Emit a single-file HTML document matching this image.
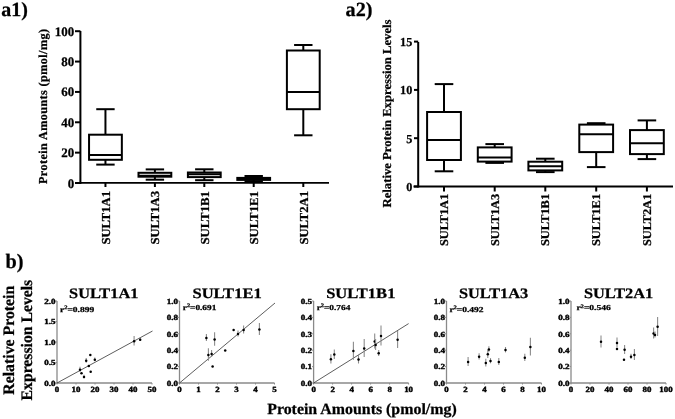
<!DOCTYPE html>
<html><head><meta charset="utf-8"><style>
html,body{margin:0;padding:0;background:#fff;}
svg{display:block;filter:grayscale(1);}
text{font-family:"Liberation Serif",serif;font-weight:bold;stroke:#000;stroke-width:0.25px;text-rendering:geometricPrecision;}
</style></head><body>
<svg width="675" height="419" viewBox="0 0 675 419">
<rect width="675" height="419" fill="#fff"/>
<text x="1.2" y="15.5" font-size="20.2" text-anchor="start" textLength="26.6" lengthAdjust="spacingAndGlyphs" fill="#000">a1)</text>
<line x1="80.4" y1="31" x2="80.4" y2="184.0" stroke="#000" stroke-width="2" stroke-linecap="butt"/>
<line x1="75" y1="183.0" x2="80.4" y2="183.0" stroke="#000" stroke-width="2" stroke-linecap="butt"/>
<text x="74.3" y="187.5" font-size="13" text-anchor="end" fill="#000">0</text>
<line x1="75" y1="152.64" x2="80.4" y2="152.64" stroke="#000" stroke-width="2" stroke-linecap="butt"/>
<text x="74.3" y="157.14" font-size="13" text-anchor="end" fill="#000">20</text>
<line x1="75" y1="122.28" x2="80.4" y2="122.28" stroke="#000" stroke-width="2" stroke-linecap="butt"/>
<text x="74.3" y="126.78" font-size="13" text-anchor="end" fill="#000">40</text>
<line x1="75" y1="91.92" x2="80.4" y2="91.92" stroke="#000" stroke-width="2" stroke-linecap="butt"/>
<text x="74.3" y="96.42" font-size="13" text-anchor="end" fill="#000">60</text>
<line x1="75" y1="61.56" x2="80.4" y2="61.56" stroke="#000" stroke-width="2" stroke-linecap="butt"/>
<text x="74.3" y="66.06" font-size="13" text-anchor="end" fill="#000">80</text>
<line x1="75" y1="31.19999999999999" x2="80.4" y2="31.19999999999999" stroke="#000" stroke-width="2" stroke-linecap="butt"/>
<text x="74.3" y="35.69999999999999" font-size="13" text-anchor="end" fill="#000">100</text>
<line x1="75.5" y1="182.8" x2="329" y2="182.8" stroke="#000" stroke-width="1.7" stroke-linecap="butt"/>
<line x1="105.45" y1="109.2" x2="105.45" y2="134.7" stroke="#000" stroke-width="2" stroke-linecap="butt"/>
<line x1="105.45" y1="159.8" x2="105.45" y2="164.6" stroke="#000" stroke-width="2" stroke-linecap="butt"/>
<line x1="96.25" y1="109.2" x2="114.65" y2="109.2" stroke="#000" stroke-width="2" stroke-linecap="butt"/>
<line x1="96.25" y1="164.6" x2="114.65" y2="164.6" stroke="#000" stroke-width="2" stroke-linecap="butt"/>
<rect x="89.05000000000001" y="134.7" width="32.8" height="25.100000000000023" stroke="#000" stroke-width="2" fill="none"/>
<line x1="89.05000000000001" y1="155.0" x2="121.85" y2="155.0" stroke="#000" stroke-width="2" stroke-linecap="butt"/>
<line x1="105.45" y1="183.0" x2="105.45" y2="187" stroke="#000" stroke-width="2" stroke-linecap="butt"/>
<text x="109.75" y="191.0" font-size="12.2" text-anchor="end" textLength="53.6" lengthAdjust="spacingAndGlyphs" transform="rotate(-90 109.75 191.0)" fill="#000">SULT1A1</text>
<line x1="154.9" y1="169.4" x2="154.9" y2="172.8" stroke="#000" stroke-width="2" stroke-linecap="butt"/>
<line x1="154.9" y1="176.7" x2="154.9" y2="179.7" stroke="#000" stroke-width="2" stroke-linecap="butt"/>
<line x1="145.70000000000002" y1="169.4" x2="164.1" y2="169.4" stroke="#000" stroke-width="2" stroke-linecap="butt"/>
<line x1="145.70000000000002" y1="179.7" x2="164.1" y2="179.7" stroke="#000" stroke-width="2" stroke-linecap="butt"/>
<rect x="138.5" y="172.8" width="32.8" height="3.8999999999999773" stroke="#000" stroke-width="2" fill="none"/>
<line x1="138.5" y1="175.8" x2="171.3" y2="175.8" stroke="#000" stroke-width="2" stroke-linecap="butt"/>
<line x1="154.9" y1="183.0" x2="154.9" y2="187" stroke="#000" stroke-width="2" stroke-linecap="butt"/>
<text x="159.20000000000002" y="191.0" font-size="12.2" text-anchor="end" textLength="53.6" lengthAdjust="spacingAndGlyphs" transform="rotate(-90 159.20000000000002 191.0)" fill="#000">SULT1A3</text>
<line x1="204.3" y1="169.3" x2="204.3" y2="172.5" stroke="#000" stroke-width="2" stroke-linecap="butt"/>
<line x1="204.3" y1="177.1" x2="204.3" y2="180.2" stroke="#000" stroke-width="2" stroke-linecap="butt"/>
<line x1="195.10000000000002" y1="169.3" x2="213.5" y2="169.3" stroke="#000" stroke-width="2" stroke-linecap="butt"/>
<line x1="195.10000000000002" y1="180.2" x2="213.5" y2="180.2" stroke="#000" stroke-width="2" stroke-linecap="butt"/>
<rect x="187.9" y="172.5" width="32.8" height="4.599999999999994" stroke="#000" stroke-width="2" fill="none"/>
<line x1="187.9" y1="174.2" x2="220.70000000000002" y2="174.2" stroke="#000" stroke-width="2" stroke-linecap="butt"/>
<line x1="204.3" y1="183.0" x2="204.3" y2="187" stroke="#000" stroke-width="2" stroke-linecap="butt"/>
<text x="208.60000000000002" y="191.0" font-size="12.2" text-anchor="end" textLength="53.6" lengthAdjust="spacingAndGlyphs" transform="rotate(-90 208.60000000000002 191.0)" fill="#000">SULT1B1</text>
<line x1="253.7" y1="176.0" x2="253.7" y2="177.9" stroke="#000" stroke-width="2" stroke-linecap="butt"/>
<line x1="253.7" y1="179.9" x2="253.7" y2="181.3" stroke="#000" stroke-width="2" stroke-linecap="butt"/>
<line x1="244.5" y1="176.0" x2="262.9" y2="176.0" stroke="#000" stroke-width="2" stroke-linecap="butt"/>
<line x1="244.5" y1="181.3" x2="262.9" y2="181.3" stroke="#000" stroke-width="2" stroke-linecap="butt"/>
<rect x="237.29999999999998" y="177.9" width="32.8" height="2.0" stroke="#000" stroke-width="2" fill="none"/>
<line x1="237.29999999999998" y1="179.0" x2="270.09999999999997" y2="179.0" stroke="#000" stroke-width="2" stroke-linecap="butt"/>
<line x1="253.7" y1="183.0" x2="253.7" y2="187" stroke="#000" stroke-width="2" stroke-linecap="butt"/>
<text x="258.0" y="191.0" font-size="12.2" text-anchor="end" textLength="53.6" lengthAdjust="spacingAndGlyphs" transform="rotate(-90 258.0 191.0)" fill="#000">SULT1E1</text>
<line x1="303.3" y1="45.0" x2="303.3" y2="50.5" stroke="#000" stroke-width="2" stroke-linecap="butt"/>
<line x1="303.3" y1="109.2" x2="303.3" y2="135.3" stroke="#000" stroke-width="2" stroke-linecap="butt"/>
<line x1="294.1" y1="45.0" x2="312.5" y2="45.0" stroke="#000" stroke-width="2" stroke-linecap="butt"/>
<line x1="294.1" y1="135.3" x2="312.5" y2="135.3" stroke="#000" stroke-width="2" stroke-linecap="butt"/>
<rect x="286.90000000000003" y="50.5" width="32.8" height="58.7" stroke="#000" stroke-width="2" fill="none"/>
<line x1="286.90000000000003" y1="92.0" x2="319.7" y2="92.0" stroke="#000" stroke-width="2" stroke-linecap="butt"/>
<line x1="303.3" y1="183.0" x2="303.3" y2="187" stroke="#000" stroke-width="2" stroke-linecap="butt"/>
<text x="307.6" y="191.0" font-size="12.2" text-anchor="end" textLength="53.6" lengthAdjust="spacingAndGlyphs" transform="rotate(-90 307.6 191.0)" fill="#000">SULT2A1</text>
<text x="46.6" y="184" font-size="12.2" text-anchor="start" textLength="155" lengthAdjust="spacing" transform="rotate(-90 46.6 184)" fill="#000">Protein Amounts (pmol/mg)</text>
<text x="345.6" y="15.5" font-size="20.2" text-anchor="start" textLength="26.9" lengthAdjust="spacingAndGlyphs" fill="#000">a2)</text>
<line x1="418.2" y1="42" x2="418.2" y2="187.5" stroke="#000" stroke-width="2" stroke-linecap="butt"/>
<line x1="414" y1="186.5" x2="418.2" y2="186.5" stroke="#000" stroke-width="2" stroke-linecap="butt"/>
<text x="412.3" y="190.8" font-size="12.2" text-anchor="end" fill="#000">0</text>
<line x1="414" y1="138.2" x2="418.2" y2="138.2" stroke="#000" stroke-width="2" stroke-linecap="butt"/>
<text x="412.3" y="142.5" font-size="12.2" text-anchor="end" fill="#000">5</text>
<line x1="414" y1="89.9" x2="418.2" y2="89.9" stroke="#000" stroke-width="2" stroke-linecap="butt"/>
<text x="412.3" y="94.2" font-size="12.2" text-anchor="end" fill="#000">10</text>
<line x1="414" y1="41.60000000000002" x2="418.2" y2="41.60000000000002" stroke="#000" stroke-width="2" stroke-linecap="butt"/>
<text x="412.3" y="45.90000000000002" font-size="12.2" text-anchor="end" fill="#000">15</text>
<line x1="413.5" y1="186.5" x2="673" y2="186.5" stroke="#000" stroke-width="1.8" stroke-linecap="butt"/>
<line x1="444.0" y1="84.10000000000001" x2="444.0" y2="112.0" stroke="#000" stroke-width="2" stroke-linecap="butt"/>
<line x1="444.0" y1="160.0" x2="444.0" y2="171.3" stroke="#000" stroke-width="2" stroke-linecap="butt"/>
<line x1="434.7" y1="84.10000000000001" x2="453.3" y2="84.10000000000001" stroke="#000" stroke-width="2" stroke-linecap="butt"/>
<line x1="434.7" y1="171.3" x2="453.3" y2="171.3" stroke="#000" stroke-width="2" stroke-linecap="butt"/>
<rect x="427.1" y="112.0" width="33.8" height="48.0" stroke="#000" stroke-width="2" fill="none"/>
<line x1="427.1" y1="140.0" x2="460.9" y2="140.0" stroke="#000" stroke-width="2" stroke-linecap="butt"/>
<line x1="444.0" y1="186.5" x2="444.0" y2="191.5" stroke="#000" stroke-width="2" stroke-linecap="butt"/>
<text x="448.0" y="193.8" font-size="11.8" text-anchor="end" textLength="52.3" lengthAdjust="spacingAndGlyphs" transform="rotate(-90 448.0 193.8)" fill="#000">SULT1A1</text>
<line x1="494.7" y1="144.1" x2="494.7" y2="147.4" stroke="#000" stroke-width="2" stroke-linecap="butt"/>
<line x1="494.7" y1="161.6" x2="494.7" y2="162.9" stroke="#000" stroke-width="2" stroke-linecap="butt"/>
<line x1="485.4" y1="144.1" x2="504.0" y2="144.1" stroke="#000" stroke-width="2" stroke-linecap="butt"/>
<line x1="485.4" y1="162.9" x2="504.0" y2="162.9" stroke="#000" stroke-width="2" stroke-linecap="butt"/>
<rect x="477.8" y="147.4" width="33.8" height="14.199999999999989" stroke="#000" stroke-width="2" fill="none"/>
<line x1="477.8" y1="157.4" x2="511.59999999999997" y2="157.4" stroke="#000" stroke-width="2" stroke-linecap="butt"/>
<line x1="494.7" y1="186.5" x2="494.7" y2="191.5" stroke="#000" stroke-width="2" stroke-linecap="butt"/>
<text x="498.7" y="193.8" font-size="11.8" text-anchor="end" textLength="52.3" lengthAdjust="spacingAndGlyphs" transform="rotate(-90 498.7 193.8)" fill="#000">SULT1A3</text>
<line x1="545.3" y1="158.70000000000002" x2="545.3" y2="161.70000000000002" stroke="#000" stroke-width="2" stroke-linecap="butt"/>
<line x1="545.3" y1="170.4" x2="545.3" y2="172.1" stroke="#000" stroke-width="2" stroke-linecap="butt"/>
<line x1="536.0" y1="158.70000000000002" x2="554.5999999999999" y2="158.70000000000002" stroke="#000" stroke-width="2" stroke-linecap="butt"/>
<line x1="536.0" y1="172.1" x2="554.5999999999999" y2="172.1" stroke="#000" stroke-width="2" stroke-linecap="butt"/>
<rect x="528.4" y="161.70000000000002" width="33.8" height="8.699999999999989" stroke="#000" stroke-width="2" fill="none"/>
<line x1="528.4" y1="166.20000000000002" x2="562.1999999999999" y2="166.20000000000002" stroke="#000" stroke-width="2" stroke-linecap="butt"/>
<line x1="545.3" y1="186.5" x2="545.3" y2="191.5" stroke="#000" stroke-width="2" stroke-linecap="butt"/>
<text x="549.3" y="193.8" font-size="11.8" text-anchor="end" textLength="52.3" lengthAdjust="spacingAndGlyphs" transform="rotate(-90 549.3 193.8)" fill="#000">SULT1B1</text>
<line x1="596.2" y1="123.2" x2="596.2" y2="124.60000000000001" stroke="#000" stroke-width="2" stroke-linecap="butt"/>
<line x1="596.2" y1="152.1" x2="596.2" y2="167.1" stroke="#000" stroke-width="2" stroke-linecap="butt"/>
<line x1="586.9000000000001" y1="123.2" x2="605.5" y2="123.2" stroke="#000" stroke-width="2" stroke-linecap="butt"/>
<line x1="586.9000000000001" y1="167.1" x2="605.5" y2="167.1" stroke="#000" stroke-width="2" stroke-linecap="butt"/>
<rect x="579.3000000000001" y="124.60000000000001" width="33.8" height="27.499999999999986" stroke="#000" stroke-width="2" fill="none"/>
<line x1="579.3000000000001" y1="134.20000000000002" x2="613.1" y2="134.20000000000002" stroke="#000" stroke-width="2" stroke-linecap="butt"/>
<line x1="596.2" y1="186.5" x2="596.2" y2="191.5" stroke="#000" stroke-width="2" stroke-linecap="butt"/>
<text x="600.2" y="193.8" font-size="11.8" text-anchor="end" textLength="52.3" lengthAdjust="spacingAndGlyphs" transform="rotate(-90 600.2 193.8)" fill="#000">SULT1E1</text>
<line x1="646.9" y1="120.4" x2="646.9" y2="130.1" stroke="#000" stroke-width="2" stroke-linecap="butt"/>
<line x1="646.9" y1="154.1" x2="646.9" y2="159.1" stroke="#000" stroke-width="2" stroke-linecap="butt"/>
<line x1="637.6" y1="120.4" x2="656.1999999999999" y2="120.4" stroke="#000" stroke-width="2" stroke-linecap="butt"/>
<line x1="637.6" y1="159.1" x2="656.1999999999999" y2="159.1" stroke="#000" stroke-width="2" stroke-linecap="butt"/>
<rect x="630.0" y="130.1" width="33.8" height="24.0" stroke="#000" stroke-width="2" fill="none"/>
<line x1="630.0" y1="143.20000000000002" x2="663.8" y2="143.20000000000002" stroke="#000" stroke-width="2" stroke-linecap="butt"/>
<line x1="646.9" y1="186.5" x2="646.9" y2="191.5" stroke="#000" stroke-width="2" stroke-linecap="butt"/>
<text x="650.9" y="193.8" font-size="11.8" text-anchor="end" textLength="52.3" lengthAdjust="spacingAndGlyphs" transform="rotate(-90 650.9 193.8)" fill="#000">SULT2A1</text>
<text x="391" y="207.5" font-size="12.2" text-anchor="start" textLength="188" lengthAdjust="spacingAndGlyphs" transform="rotate(-90 391 207.5)" fill="#000">Relative Protein Expression Levels</text>
<text x="5.5" y="268" font-size="20.5" text-anchor="start" textLength="18" lengthAdjust="spacingAndGlyphs" fill="#000">b)</text>
<text x="14.2" y="394.7" font-size="16" text-anchor="start" textLength="109" lengthAdjust="spacingAndGlyphs" transform="rotate(-90 14.2 394.7)" fill="#000">Relative Protein</text>
<text x="32" y="400.4" font-size="16" text-anchor="start" textLength="120.6" lengthAdjust="spacingAndGlyphs" transform="rotate(-90 32 400.4)" fill="#000">Expression Levels</text>
<text x="267.2" y="414.3" font-size="15.6" text-anchor="start" textLength="189.5" lengthAdjust="spacingAndGlyphs" fill="#000">Protein Amounts (pmol/mg)</text>
<line x1="57.0" y1="301.0" x2="57.0" y2="383.5" stroke="#8a8a8a" stroke-width="1.3" stroke-linecap="butt"/>
<line x1="56.5" y1="383.0" x2="152.0" y2="383.0" stroke="#8a8a8a" stroke-width="1.3" stroke-linecap="butt"/>
<line x1="55.5" y1="383.0" x2="57.0" y2="383.0" stroke="#8a8a8a" stroke-width="1" stroke-linecap="butt"/>
<text x="55.5" y="385.8" font-size="7.8" text-anchor="end" textLength="11.3" lengthAdjust="spacingAndGlyphs" fill="#000" style="stroke-width:0.4px">0.0</text>
<line x1="55.5" y1="362.5" x2="57.0" y2="362.5" stroke="#8a8a8a" stroke-width="1" stroke-linecap="butt"/>
<text x="55.5" y="365.3" font-size="7.8" text-anchor="end" textLength="11.3" lengthAdjust="spacingAndGlyphs" fill="#000" style="stroke-width:0.4px">0.5</text>
<line x1="55.5" y1="342.0" x2="57.0" y2="342.0" stroke="#8a8a8a" stroke-width="1" stroke-linecap="butt"/>
<text x="55.5" y="344.8" font-size="7.8" text-anchor="end" textLength="11.3" lengthAdjust="spacingAndGlyphs" fill="#000" style="stroke-width:0.4px">1.0</text>
<line x1="55.5" y1="321.5" x2="57.0" y2="321.5" stroke="#8a8a8a" stroke-width="1" stroke-linecap="butt"/>
<text x="55.5" y="324.3" font-size="7.8" text-anchor="end" textLength="11.3" lengthAdjust="spacingAndGlyphs" fill="#000" style="stroke-width:0.4px">1.5</text>
<line x1="55.5" y1="301.0" x2="57.0" y2="301.0" stroke="#8a8a8a" stroke-width="1" stroke-linecap="butt"/>
<text x="55.5" y="303.8" font-size="7.8" text-anchor="end" textLength="11.3" lengthAdjust="spacingAndGlyphs" fill="#000" style="stroke-width:0.4px">2.0</text>
<line x1="57.0" y1="383.0" x2="57.0" y2="384.5" stroke="#8a8a8a" stroke-width="1" stroke-linecap="butt"/>
<text x="57.0" y="391.6" font-size="7.9" text-anchor="middle" textLength="4.45" lengthAdjust="spacingAndGlyphs" fill="#000" style="stroke-width:0.4px">0</text>
<line x1="76.0" y1="383.0" x2="76.0" y2="384.5" stroke="#8a8a8a" stroke-width="1" stroke-linecap="butt"/>
<text x="76.0" y="391.6" font-size="7.9" text-anchor="middle" textLength="8.9" lengthAdjust="spacingAndGlyphs" fill="#000" style="stroke-width:0.4px">10</text>
<line x1="95.0" y1="383.0" x2="95.0" y2="384.5" stroke="#8a8a8a" stroke-width="1" stroke-linecap="butt"/>
<text x="95.0" y="391.6" font-size="7.9" text-anchor="middle" textLength="8.9" lengthAdjust="spacingAndGlyphs" fill="#000" style="stroke-width:0.4px">20</text>
<line x1="114.0" y1="383.0" x2="114.0" y2="384.5" stroke="#8a8a8a" stroke-width="1" stroke-linecap="butt"/>
<text x="114.0" y="391.6" font-size="7.9" text-anchor="middle" textLength="8.9" lengthAdjust="spacingAndGlyphs" fill="#000" style="stroke-width:0.4px">30</text>
<line x1="133.0" y1="383.0" x2="133.0" y2="384.5" stroke="#8a8a8a" stroke-width="1" stroke-linecap="butt"/>
<text x="133.0" y="391.6" font-size="7.9" text-anchor="middle" textLength="8.9" lengthAdjust="spacingAndGlyphs" fill="#000" style="stroke-width:0.4px">40</text>
<line x1="152.0" y1="383.0" x2="152.0" y2="384.5" stroke="#8a8a8a" stroke-width="1" stroke-linecap="butt"/>
<text x="152.0" y="391.6" font-size="7.9" text-anchor="middle" textLength="8.9" lengthAdjust="spacingAndGlyphs" fill="#000" style="stroke-width:0.4px">50</text>
<text x="103.7" y="298.4" font-size="14.4" text-anchor="middle" textLength="69.3" lengthAdjust="spacingAndGlyphs" fill="#000">SULT1A1</text>
<text x="60.0" y="312.0" font-size="7.6" font-family="Liberation Serif" font-weight="bold" textLength="34.2" lengthAdjust="spacingAndGlyphs">r<tspan dy="-2.6" font-size="5.2">2</tspan><tspan dy="2.6">=0.899</tspan></text>
<line x1="57.0" y1="383.0" x2="152.5" y2="331.0" stroke="#333" stroke-width="0.8" stroke-linecap="butt"/>
<line x1="134.1" y1="336.0" x2="134.1" y2="345.6" stroke="#8c8c8c" stroke-width="1.1" stroke-linecap="butt"/>
<circle cx="134.1" cy="341.2" r="1.25" fill="#000"/>
<line x1="140.2" y1="337.6" x2="140.2" y2="341.0" stroke="#8c8c8c" stroke-width="1.1" stroke-linecap="butt"/>
<circle cx="140.2" cy="339.7" r="1.25" fill="#000"/>
<circle cx="90.3" cy="354.9" r="1.25" fill="#000"/>
<line x1="86.2" y1="357.90000000000003" x2="86.2" y2="362.7" stroke="#8c8c8c" stroke-width="1.1" stroke-linecap="butt"/>
<circle cx="86.2" cy="360.7" r="1.25" fill="#000"/>
<line x1="94.8" y1="357.40000000000003" x2="94.8" y2="361.2" stroke="#8c8c8c" stroke-width="1.1" stroke-linecap="butt"/>
<circle cx="94.8" cy="359.7" r="1.25" fill="#000"/>
<circle cx="88.8" cy="365.9" r="1.25" fill="#000"/>
<line x1="80.0" y1="366.7" x2="80.0" y2="371.90000000000003" stroke="#8c8c8c" stroke-width="1.1" stroke-linecap="butt"/>
<circle cx="80.0" cy="369.7" r="1.25" fill="#000"/>
<circle cx="81.5" cy="373.29999999999995" r="1.25" fill="#000"/>
<circle cx="90.7" cy="371.79999999999995" r="1.25" fill="#000"/>
<line x1="84.0" y1="374.8" x2="84.0" y2="378.2" stroke="#8c8c8c" stroke-width="1.1" stroke-linecap="butt"/>
<circle cx="84.0" cy="376.9" r="1.25" fill="#000"/>
<line x1="179.5" y1="301.0" x2="179.5" y2="383.5" stroke="#8a8a8a" stroke-width="1.3" stroke-linecap="butt"/>
<line x1="179.0" y1="383.0" x2="274.5" y2="383.0" stroke="#8a8a8a" stroke-width="1.3" stroke-linecap="butt"/>
<line x1="178.0" y1="383.0" x2="179.5" y2="383.0" stroke="#8a8a8a" stroke-width="1" stroke-linecap="butt"/>
<text x="178.0" y="385.8" font-size="7.8" text-anchor="end" textLength="11.3" lengthAdjust="spacingAndGlyphs" fill="#000" style="stroke-width:0.4px">0.0</text>
<line x1="178.0" y1="366.6" x2="179.5" y2="366.6" stroke="#8a8a8a" stroke-width="1" stroke-linecap="butt"/>
<text x="178.0" y="369.40000000000003" font-size="7.8" text-anchor="end" textLength="11.3" lengthAdjust="spacingAndGlyphs" fill="#000" style="stroke-width:0.4px">0.2</text>
<line x1="178.0" y1="350.2" x2="179.5" y2="350.2" stroke="#8a8a8a" stroke-width="1" stroke-linecap="butt"/>
<text x="178.0" y="353.0" font-size="7.8" text-anchor="end" textLength="11.3" lengthAdjust="spacingAndGlyphs" fill="#000" style="stroke-width:0.4px">0.4</text>
<line x1="178.0" y1="333.8" x2="179.5" y2="333.8" stroke="#8a8a8a" stroke-width="1" stroke-linecap="butt"/>
<text x="178.0" y="336.6" font-size="7.8" text-anchor="end" textLength="11.3" lengthAdjust="spacingAndGlyphs" fill="#000" style="stroke-width:0.4px">0.6</text>
<line x1="178.0" y1="317.4" x2="179.5" y2="317.4" stroke="#8a8a8a" stroke-width="1" stroke-linecap="butt"/>
<text x="178.0" y="320.2" font-size="7.8" text-anchor="end" textLength="11.3" lengthAdjust="spacingAndGlyphs" fill="#000" style="stroke-width:0.4px">0.8</text>
<line x1="178.0" y1="301.0" x2="179.5" y2="301.0" stroke="#8a8a8a" stroke-width="1" stroke-linecap="butt"/>
<text x="178.0" y="303.8" font-size="7.8" text-anchor="end" textLength="11.3" lengthAdjust="spacingAndGlyphs" fill="#000" style="stroke-width:0.4px">1.0</text>
<line x1="179.5" y1="383.0" x2="179.5" y2="384.5" stroke="#8a8a8a" stroke-width="1" stroke-linecap="butt"/>
<text x="179.5" y="391.6" font-size="7.9" text-anchor="middle" textLength="4.45" lengthAdjust="spacingAndGlyphs" fill="#000" style="stroke-width:0.4px">0</text>
<line x1="198.5" y1="383.0" x2="198.5" y2="384.5" stroke="#8a8a8a" stroke-width="1" stroke-linecap="butt"/>
<text x="198.5" y="391.6" font-size="7.9" text-anchor="middle" textLength="4.45" lengthAdjust="spacingAndGlyphs" fill="#000" style="stroke-width:0.4px">1</text>
<line x1="217.5" y1="383.0" x2="217.5" y2="384.5" stroke="#8a8a8a" stroke-width="1" stroke-linecap="butt"/>
<text x="217.5" y="391.6" font-size="7.9" text-anchor="middle" textLength="4.45" lengthAdjust="spacingAndGlyphs" fill="#000" style="stroke-width:0.4px">2</text>
<line x1="236.5" y1="383.0" x2="236.5" y2="384.5" stroke="#8a8a8a" stroke-width="1" stroke-linecap="butt"/>
<text x="236.5" y="391.6" font-size="7.9" text-anchor="middle" textLength="4.45" lengthAdjust="spacingAndGlyphs" fill="#000" style="stroke-width:0.4px">3</text>
<line x1="255.5" y1="383.0" x2="255.5" y2="384.5" stroke="#8a8a8a" stroke-width="1" stroke-linecap="butt"/>
<text x="255.5" y="391.6" font-size="7.9" text-anchor="middle" textLength="4.45" lengthAdjust="spacingAndGlyphs" fill="#000" style="stroke-width:0.4px">4</text>
<line x1="274.5" y1="383.0" x2="274.5" y2="384.5" stroke="#8a8a8a" stroke-width="1" stroke-linecap="butt"/>
<text x="274.5" y="391.6" font-size="7.9" text-anchor="middle" textLength="4.45" lengthAdjust="spacingAndGlyphs" fill="#000" style="stroke-width:0.4px">5</text>
<text x="227.1" y="298.4" font-size="14.4" text-anchor="middle" textLength="69.3" lengthAdjust="spacingAndGlyphs" fill="#000">SULT1E1</text>
<text x="182.8" y="309.8" font-size="7.6" font-family="Liberation Serif" font-weight="bold" textLength="33.5" lengthAdjust="spacingAndGlyphs">r<tspan dy="-2.6" font-size="5.2">2</tspan><tspan dy="2.6">=0.691</tspan></text>
<line x1="179.5" y1="383.0" x2="275.0" y2="303.0" stroke="#333" stroke-width="0.8" stroke-linecap="butt"/>
<line x1="206.4" y1="334.1" x2="206.4" y2="341.1" stroke="#8c8c8c" stroke-width="1.1" stroke-linecap="butt"/>
<circle cx="206.4" cy="338.0" r="1.25" fill="#000"/>
<line x1="214.6" y1="332.2" x2="214.6" y2="345.8" stroke="#8c8c8c" stroke-width="1.1" stroke-linecap="butt"/>
<circle cx="214.6" cy="339.4" r="1.25" fill="#000"/>
<line x1="208.4" y1="348.2" x2="208.4" y2="360.8" stroke="#8c8c8c" stroke-width="1.1" stroke-linecap="butt"/>
<circle cx="208.4" cy="354.9" r="1.25" fill="#000"/>
<line x1="211.6" y1="350.0" x2="211.6" y2="357.0" stroke="#8c8c8c" stroke-width="1.1" stroke-linecap="butt"/>
<circle cx="211.6" cy="353.9" r="1.25" fill="#000"/>
<circle cx="225.2" cy="350.4" r="1.25" fill="#000"/>
<circle cx="233.6" cy="330.0" r="1.25" fill="#000"/>
<line x1="238.0" y1="330.6" x2="238.0" y2="336.6" stroke="#8c8c8c" stroke-width="1.1" stroke-linecap="butt"/>
<circle cx="238.0" cy="334.0" r="1.25" fill="#000"/>
<line x1="243.6" y1="325.6" x2="243.6" y2="333.6" stroke="#8c8c8c" stroke-width="1.1" stroke-linecap="butt"/>
<circle cx="243.6" cy="330.0" r="1.25" fill="#000"/>
<line x1="259.4" y1="323.0" x2="259.4" y2="335.0" stroke="#8c8c8c" stroke-width="1.1" stroke-linecap="butt"/>
<circle cx="259.4" cy="329.4" r="1.25" fill="#000"/>
<circle cx="212.6" cy="366.4" r="1.25" fill="#000"/>
<line x1="313.6" y1="301.0" x2="313.6" y2="383.5" stroke="#8a8a8a" stroke-width="1.3" stroke-linecap="butt"/>
<line x1="313.1" y1="383.0" x2="408.6" y2="383.0" stroke="#8a8a8a" stroke-width="1.3" stroke-linecap="butt"/>
<line x1="312.1" y1="383.0" x2="313.6" y2="383.0" stroke="#8a8a8a" stroke-width="1" stroke-linecap="butt"/>
<text x="312.1" y="385.8" font-size="7.8" text-anchor="end" textLength="11.3" lengthAdjust="spacingAndGlyphs" fill="#000" style="stroke-width:0.4px">0.0</text>
<line x1="312.1" y1="366.6" x2="313.6" y2="366.6" stroke="#8a8a8a" stroke-width="1" stroke-linecap="butt"/>
<text x="312.1" y="369.40000000000003" font-size="7.8" text-anchor="end" textLength="11.3" lengthAdjust="spacingAndGlyphs" fill="#000" style="stroke-width:0.4px">0.1</text>
<line x1="312.1" y1="350.2" x2="313.6" y2="350.2" stroke="#8a8a8a" stroke-width="1" stroke-linecap="butt"/>
<text x="312.1" y="353.0" font-size="7.8" text-anchor="end" textLength="11.3" lengthAdjust="spacingAndGlyphs" fill="#000" style="stroke-width:0.4px">0.2</text>
<line x1="312.1" y1="333.8" x2="313.6" y2="333.8" stroke="#8a8a8a" stroke-width="1" stroke-linecap="butt"/>
<text x="312.1" y="336.6" font-size="7.8" text-anchor="end" textLength="11.3" lengthAdjust="spacingAndGlyphs" fill="#000" style="stroke-width:0.4px">0.3</text>
<line x1="312.1" y1="317.4" x2="313.6" y2="317.4" stroke="#8a8a8a" stroke-width="1" stroke-linecap="butt"/>
<text x="312.1" y="320.2" font-size="7.8" text-anchor="end" textLength="11.3" lengthAdjust="spacingAndGlyphs" fill="#000" style="stroke-width:0.4px">0.4</text>
<line x1="312.1" y1="301.0" x2="313.6" y2="301.0" stroke="#8a8a8a" stroke-width="1" stroke-linecap="butt"/>
<text x="312.1" y="303.8" font-size="7.8" text-anchor="end" textLength="11.3" lengthAdjust="spacingAndGlyphs" fill="#000" style="stroke-width:0.4px">0.5</text>
<line x1="313.6" y1="383.0" x2="313.6" y2="384.5" stroke="#8a8a8a" stroke-width="1" stroke-linecap="butt"/>
<text x="313.6" y="391.6" font-size="7.9" text-anchor="middle" textLength="4.45" lengthAdjust="spacingAndGlyphs" fill="#000" style="stroke-width:0.4px">0</text>
<line x1="332.6" y1="383.0" x2="332.6" y2="384.5" stroke="#8a8a8a" stroke-width="1" stroke-linecap="butt"/>
<text x="332.6" y="391.6" font-size="7.9" text-anchor="middle" textLength="4.45" lengthAdjust="spacingAndGlyphs" fill="#000" style="stroke-width:0.4px">2</text>
<line x1="351.6" y1="383.0" x2="351.6" y2="384.5" stroke="#8a8a8a" stroke-width="1" stroke-linecap="butt"/>
<text x="351.6" y="391.6" font-size="7.9" text-anchor="middle" textLength="4.45" lengthAdjust="spacingAndGlyphs" fill="#000" style="stroke-width:0.4px">4</text>
<line x1="370.6" y1="383.0" x2="370.6" y2="384.5" stroke="#8a8a8a" stroke-width="1" stroke-linecap="butt"/>
<text x="370.6" y="391.6" font-size="7.9" text-anchor="middle" textLength="4.45" lengthAdjust="spacingAndGlyphs" fill="#000" style="stroke-width:0.4px">6</text>
<line x1="389.6" y1="383.0" x2="389.6" y2="384.5" stroke="#8a8a8a" stroke-width="1" stroke-linecap="butt"/>
<text x="389.6" y="391.6" font-size="7.9" text-anchor="middle" textLength="4.45" lengthAdjust="spacingAndGlyphs" fill="#000" style="stroke-width:0.4px">8</text>
<line x1="408.6" y1="383.0" x2="408.6" y2="384.5" stroke="#8a8a8a" stroke-width="1" stroke-linecap="butt"/>
<text x="408.6" y="391.6" font-size="7.9" text-anchor="middle" textLength="8.9" lengthAdjust="spacingAndGlyphs" fill="#000" style="stroke-width:0.4px">10</text>
<text x="360.8" y="298.4" font-size="14.4" text-anchor="middle" textLength="69.3" lengthAdjust="spacingAndGlyphs" fill="#000">SULT1B1</text>
<text x="316.7" y="309.8" font-size="7.6" font-family="Liberation Serif" font-weight="bold" textLength="33.7" lengthAdjust="spacingAndGlyphs">r<tspan dy="-2.6" font-size="5.2">2</tspan><tspan dy="2.6">=0.764</tspan></text>
<line x1="313.6" y1="383.0" x2="408.6" y2="323.6" stroke="#333" stroke-width="0.8" stroke-linecap="butt"/>
<line x1="330.9" y1="354.2" x2="330.9" y2="363.40000000000003" stroke="#8c8c8c" stroke-width="1.1" stroke-linecap="butt"/>
<circle cx="330.9" cy="359.2" r="1.25" fill="#000"/>
<line x1="334.3" y1="349.5" x2="334.3" y2="358.9" stroke="#8c8c8c" stroke-width="1.1" stroke-linecap="butt"/>
<circle cx="334.3" cy="354.59999999999997" r="1.25" fill="#000"/>
<line x1="353.4" y1="341.7" x2="353.4" y2="359.7" stroke="#8c8c8c" stroke-width="1.1" stroke-linecap="butt"/>
<circle cx="353.4" cy="351.09999999999997" r="1.25" fill="#000"/>
<line x1="358.5" y1="354.70000000000005" x2="358.5" y2="363.5" stroke="#8c8c8c" stroke-width="1.1" stroke-linecap="butt"/>
<circle cx="358.5" cy="359.5" r="1.25" fill="#000"/>
<line x1="364.2" y1="339.0" x2="364.2" y2="357.0" stroke="#8c8c8c" stroke-width="1.1" stroke-linecap="butt"/>
<circle cx="364.2" cy="348.4" r="1.25" fill="#000"/>
<line x1="374.7" y1="333.5" x2="374.7" y2="348.5" stroke="#8c8c8c" stroke-width="1.1" stroke-linecap="butt"/>
<circle cx="374.7" cy="341.4" r="1.25" fill="#000"/>
<line x1="375.6" y1="339.0" x2="375.6" y2="350.0" stroke="#8c8c8c" stroke-width="1.1" stroke-linecap="butt"/>
<circle cx="375.6" cy="344.9" r="1.25" fill="#000"/>
<line x1="378.7" y1="349.9" x2="378.7" y2="355.9" stroke="#8c8c8c" stroke-width="1.1" stroke-linecap="butt"/>
<circle cx="378.7" cy="353.29999999999995" r="1.25" fill="#000"/>
<line x1="381.0" y1="325.5" x2="381.0" y2="345.5" stroke="#8c8c8c" stroke-width="1.1" stroke-linecap="butt"/>
<circle cx="381.0" cy="335.9" r="1.25" fill="#000"/>
<line x1="397.6" y1="330.9" x2="397.6" y2="347.9" stroke="#8c8c8c" stroke-width="1.1" stroke-linecap="butt"/>
<circle cx="397.6" cy="339.79999999999995" r="1.25" fill="#000"/>
<line x1="446.5" y1="301.0" x2="446.5" y2="383.5" stroke="#8a8a8a" stroke-width="1.3" stroke-linecap="butt"/>
<line x1="446.0" y1="383.0" x2="541.5" y2="383.0" stroke="#8a8a8a" stroke-width="1.3" stroke-linecap="butt"/>
<line x1="445.0" y1="383.0" x2="446.5" y2="383.0" stroke="#8a8a8a" stroke-width="1" stroke-linecap="butt"/>
<text x="445.0" y="385.8" font-size="7.8" text-anchor="end" textLength="11.3" lengthAdjust="spacingAndGlyphs" fill="#000" style="stroke-width:0.4px">0.0</text>
<line x1="445.0" y1="366.6" x2="446.5" y2="366.6" stroke="#8a8a8a" stroke-width="1" stroke-linecap="butt"/>
<text x="445.0" y="369.40000000000003" font-size="7.8" text-anchor="end" textLength="11.3" lengthAdjust="spacingAndGlyphs" fill="#000" style="stroke-width:0.4px">0.2</text>
<line x1="445.0" y1="350.2" x2="446.5" y2="350.2" stroke="#8a8a8a" stroke-width="1" stroke-linecap="butt"/>
<text x="445.0" y="353.0" font-size="7.8" text-anchor="end" textLength="11.3" lengthAdjust="spacingAndGlyphs" fill="#000" style="stroke-width:0.4px">0.4</text>
<line x1="445.0" y1="333.8" x2="446.5" y2="333.8" stroke="#8a8a8a" stroke-width="1" stroke-linecap="butt"/>
<text x="445.0" y="336.6" font-size="7.8" text-anchor="end" textLength="11.3" lengthAdjust="spacingAndGlyphs" fill="#000" style="stroke-width:0.4px">0.6</text>
<line x1="445.0" y1="317.4" x2="446.5" y2="317.4" stroke="#8a8a8a" stroke-width="1" stroke-linecap="butt"/>
<text x="445.0" y="320.2" font-size="7.8" text-anchor="end" textLength="11.3" lengthAdjust="spacingAndGlyphs" fill="#000" style="stroke-width:0.4px">0.8</text>
<line x1="445.0" y1="301.0" x2="446.5" y2="301.0" stroke="#8a8a8a" stroke-width="1" stroke-linecap="butt"/>
<text x="445.0" y="303.8" font-size="7.8" text-anchor="end" textLength="11.3" lengthAdjust="spacingAndGlyphs" fill="#000" style="stroke-width:0.4px">1.0</text>
<line x1="446.5" y1="383.0" x2="446.5" y2="384.5" stroke="#8a8a8a" stroke-width="1" stroke-linecap="butt"/>
<text x="446.5" y="391.6" font-size="7.9" text-anchor="middle" textLength="4.45" lengthAdjust="spacingAndGlyphs" fill="#000" style="stroke-width:0.4px">0</text>
<line x1="465.5" y1="383.0" x2="465.5" y2="384.5" stroke="#8a8a8a" stroke-width="1" stroke-linecap="butt"/>
<text x="465.5" y="391.6" font-size="7.9" text-anchor="middle" textLength="4.45" lengthAdjust="spacingAndGlyphs" fill="#000" style="stroke-width:0.4px">2</text>
<line x1="484.5" y1="383.0" x2="484.5" y2="384.5" stroke="#8a8a8a" stroke-width="1" stroke-linecap="butt"/>
<text x="484.5" y="391.6" font-size="7.9" text-anchor="middle" textLength="4.45" lengthAdjust="spacingAndGlyphs" fill="#000" style="stroke-width:0.4px">4</text>
<line x1="503.5" y1="383.0" x2="503.5" y2="384.5" stroke="#8a8a8a" stroke-width="1" stroke-linecap="butt"/>
<text x="503.5" y="391.6" font-size="7.9" text-anchor="middle" textLength="4.45" lengthAdjust="spacingAndGlyphs" fill="#000" style="stroke-width:0.4px">6</text>
<line x1="522.5" y1="383.0" x2="522.5" y2="384.5" stroke="#8a8a8a" stroke-width="1" stroke-linecap="butt"/>
<text x="522.5" y="391.6" font-size="7.9" text-anchor="middle" textLength="4.45" lengthAdjust="spacingAndGlyphs" fill="#000" style="stroke-width:0.4px">8</text>
<line x1="541.5" y1="383.0" x2="541.5" y2="384.5" stroke="#8a8a8a" stroke-width="1" stroke-linecap="butt"/>
<text x="541.5" y="391.6" font-size="7.9" text-anchor="middle" textLength="8.9" lengthAdjust="spacingAndGlyphs" fill="#000" style="stroke-width:0.4px">10</text>
<text x="493.6" y="298.4" font-size="14.4" text-anchor="middle" textLength="69.3" lengthAdjust="spacingAndGlyphs" fill="#000">SULT1A3</text>
<text x="449.4" y="311.6" font-size="7.6" font-family="Liberation Serif" font-weight="bold" textLength="34.2" lengthAdjust="spacingAndGlyphs">r<tspan dy="-2.6" font-size="5.2">2</tspan><tspan dy="2.6">=0.492</tspan></text>
<line x1="468.1" y1="356.9" x2="468.1" y2="366.1" stroke="#8c8c8c" stroke-width="1.1" stroke-linecap="butt"/>
<circle cx="468.1" cy="361.9" r="1.25" fill="#000"/>
<line x1="479.1" y1="353.2" x2="479.1" y2="359.40000000000003" stroke="#8c8c8c" stroke-width="1.1" stroke-linecap="butt"/>
<circle cx="479.1" cy="356.7" r="1.25" fill="#000"/>
<line x1="485.8" y1="358.70000000000005" x2="485.8" y2="366.5" stroke="#8c8c8c" stroke-width="1.1" stroke-linecap="butt"/>
<circle cx="485.8" cy="363.0" r="1.25" fill="#000"/>
<line x1="487.8" y1="349.79999999999995" x2="487.8" y2="358.0" stroke="#8c8c8c" stroke-width="1.1" stroke-linecap="butt"/>
<circle cx="487.8" cy="354.29999999999995" r="1.25" fill="#000"/>
<line x1="488.9" y1="346.2" x2="488.9" y2="351.8" stroke="#8c8c8c" stroke-width="1.1" stroke-linecap="butt"/>
<circle cx="488.9" cy="349.4" r="1.25" fill="#000"/>
<line x1="490.5" y1="358.09999999999997" x2="490.5" y2="363.3" stroke="#8c8c8c" stroke-width="1.1" stroke-linecap="butt"/>
<circle cx="490.5" cy="361.09999999999997" r="1.25" fill="#000"/>
<line x1="498.8" y1="358.1" x2="498.8" y2="364.9" stroke="#8c8c8c" stroke-width="1.1" stroke-linecap="butt"/>
<circle cx="498.8" cy="361.9" r="1.25" fill="#000"/>
<line x1="505.5" y1="347.0" x2="505.5" y2="352.4" stroke="#8c8c8c" stroke-width="1.1" stroke-linecap="butt"/>
<circle cx="505.5" cy="350.09999999999997" r="1.25" fill="#000"/>
<line x1="524.8" y1="353.79999999999995" x2="524.8" y2="361.0" stroke="#8c8c8c" stroke-width="1.1" stroke-linecap="butt"/>
<circle cx="524.8" cy="357.79999999999995" r="1.25" fill="#000"/>
<line x1="530.4" y1="337.8" x2="530.4" y2="355.40000000000003" stroke="#8c8c8c" stroke-width="1.1" stroke-linecap="butt"/>
<circle cx="530.4" cy="347.0" r="1.25" fill="#000"/>
<line x1="571.0" y1="301.0" x2="571.0" y2="383.5" stroke="#8a8a8a" stroke-width="1.3" stroke-linecap="butt"/>
<line x1="570.5" y1="383.0" x2="666.0" y2="383.0" stroke="#8a8a8a" stroke-width="1.3" stroke-linecap="butt"/>
<line x1="569.5" y1="383.0" x2="571.0" y2="383.0" stroke="#8a8a8a" stroke-width="1" stroke-linecap="butt"/>
<text x="569.5" y="385.8" font-size="7.8" text-anchor="end" textLength="11.3" lengthAdjust="spacingAndGlyphs" fill="#000" style="stroke-width:0.4px">0.0</text>
<line x1="569.5" y1="366.6" x2="571.0" y2="366.6" stroke="#8a8a8a" stroke-width="1" stroke-linecap="butt"/>
<text x="569.5" y="369.40000000000003" font-size="7.8" text-anchor="end" textLength="11.3" lengthAdjust="spacingAndGlyphs" fill="#000" style="stroke-width:0.4px">0.2</text>
<line x1="569.5" y1="350.2" x2="571.0" y2="350.2" stroke="#8a8a8a" stroke-width="1" stroke-linecap="butt"/>
<text x="569.5" y="353.0" font-size="7.8" text-anchor="end" textLength="11.3" lengthAdjust="spacingAndGlyphs" fill="#000" style="stroke-width:0.4px">0.4</text>
<line x1="569.5" y1="333.8" x2="571.0" y2="333.8" stroke="#8a8a8a" stroke-width="1" stroke-linecap="butt"/>
<text x="569.5" y="336.6" font-size="7.8" text-anchor="end" textLength="11.3" lengthAdjust="spacingAndGlyphs" fill="#000" style="stroke-width:0.4px">0.6</text>
<line x1="569.5" y1="317.4" x2="571.0" y2="317.4" stroke="#8a8a8a" stroke-width="1" stroke-linecap="butt"/>
<text x="569.5" y="320.2" font-size="7.8" text-anchor="end" textLength="11.3" lengthAdjust="spacingAndGlyphs" fill="#000" style="stroke-width:0.4px">0.8</text>
<line x1="569.5" y1="301.0" x2="571.0" y2="301.0" stroke="#8a8a8a" stroke-width="1" stroke-linecap="butt"/>
<text x="569.5" y="303.8" font-size="7.8" text-anchor="end" textLength="11.3" lengthAdjust="spacingAndGlyphs" fill="#000" style="stroke-width:0.4px">1.0</text>
<line x1="571.0" y1="383.0" x2="571.0" y2="384.5" stroke="#8a8a8a" stroke-width="1" stroke-linecap="butt"/>
<text x="571.0" y="391.6" font-size="7.9" text-anchor="middle" textLength="4.45" lengthAdjust="spacingAndGlyphs" fill="#000" style="stroke-width:0.4px">0</text>
<line x1="590.0" y1="383.0" x2="590.0" y2="384.5" stroke="#8a8a8a" stroke-width="1" stroke-linecap="butt"/>
<text x="590.0" y="391.6" font-size="7.9" text-anchor="middle" textLength="8.9" lengthAdjust="spacingAndGlyphs" fill="#000" style="stroke-width:0.4px">20</text>
<line x1="609.0" y1="383.0" x2="609.0" y2="384.5" stroke="#8a8a8a" stroke-width="1" stroke-linecap="butt"/>
<text x="609.0" y="391.6" font-size="7.9" text-anchor="middle" textLength="8.9" lengthAdjust="spacingAndGlyphs" fill="#000" style="stroke-width:0.4px">40</text>
<line x1="628.0" y1="383.0" x2="628.0" y2="384.5" stroke="#8a8a8a" stroke-width="1" stroke-linecap="butt"/>
<text x="628.0" y="391.6" font-size="7.9" text-anchor="middle" textLength="8.9" lengthAdjust="spacingAndGlyphs" fill="#000" style="stroke-width:0.4px">60</text>
<line x1="647.0" y1="383.0" x2="647.0" y2="384.5" stroke="#8a8a8a" stroke-width="1" stroke-linecap="butt"/>
<text x="647.0" y="391.6" font-size="7.9" text-anchor="middle" textLength="8.9" lengthAdjust="spacingAndGlyphs" fill="#000" style="stroke-width:0.4px">80</text>
<line x1="666.0" y1="383.0" x2="666.0" y2="384.5" stroke="#8a8a8a" stroke-width="1" stroke-linecap="butt"/>
<text x="666.0" y="391.6" font-size="7.9" text-anchor="middle" textLength="13.350000000000001" lengthAdjust="spacingAndGlyphs" fill="#000" style="stroke-width:0.4px">100</text>
<text x="618.6" y="298.4" font-size="14.4" text-anchor="middle" textLength="69.3" lengthAdjust="spacingAndGlyphs" fill="#000">SULT2A1</text>
<text x="576.4" y="310.2" font-size="7.6" font-family="Liberation Serif" font-weight="bold" textLength="34.4" lengthAdjust="spacingAndGlyphs">r<tspan dy="-2.6" font-size="5.2">2</tspan><tspan dy="2.6">=0.546</tspan></text>
<line x1="601.0" y1="335.4" x2="601.0" y2="347.4" stroke="#8c8c8c" stroke-width="1.1" stroke-linecap="butt"/>
<circle cx="601.0" cy="341.79999999999995" r="1.25" fill="#000"/>
<line x1="617.0" y1="337.6" x2="617.0" y2="347.6" stroke="#8c8c8c" stroke-width="1.1" stroke-linecap="butt"/>
<circle cx="617.0" cy="343.0" r="1.25" fill="#000"/>
<circle cx="617.0" cy="349.0" r="1.25" fill="#000"/>
<line x1="624.6" y1="344.9" x2="624.6" y2="353.9" stroke="#8c8c8c" stroke-width="1.1" stroke-linecap="butt"/>
<circle cx="624.6" cy="349.79999999999995" r="1.25" fill="#000"/>
<circle cx="624.0" cy="359.7" r="1.25" fill="#000"/>
<line x1="631.0" y1="353.79999999999995" x2="631.0" y2="359.0" stroke="#8c8c8c" stroke-width="1.1" stroke-linecap="butt"/>
<circle cx="631.0" cy="356.79999999999995" r="1.25" fill="#000"/>
<line x1="634.4" y1="349.1" x2="634.4" y2="360.1" stroke="#8c8c8c" stroke-width="1.1" stroke-linecap="butt"/>
<circle cx="634.4" cy="355.0" r="1.25" fill="#000"/>
<line x1="653.6" y1="327.5" x2="653.6" y2="338.5" stroke="#8c8c8c" stroke-width="1.1" stroke-linecap="butt"/>
<circle cx="653.6" cy="333.4" r="1.25" fill="#000"/>
<line x1="655.0" y1="331.5" x2="655.0" y2="337.5" stroke="#8c8c8c" stroke-width="1.1" stroke-linecap="butt"/>
<circle cx="655.0" cy="334.9" r="1.25" fill="#000"/>
<line x1="657.6" y1="316.9" x2="657.6" y2="335.9" stroke="#8c8c8c" stroke-width="1.1" stroke-linecap="butt"/>
<circle cx="657.6" cy="326.79999999999995" r="1.25" fill="#000"/>
</svg>
</body></html>
